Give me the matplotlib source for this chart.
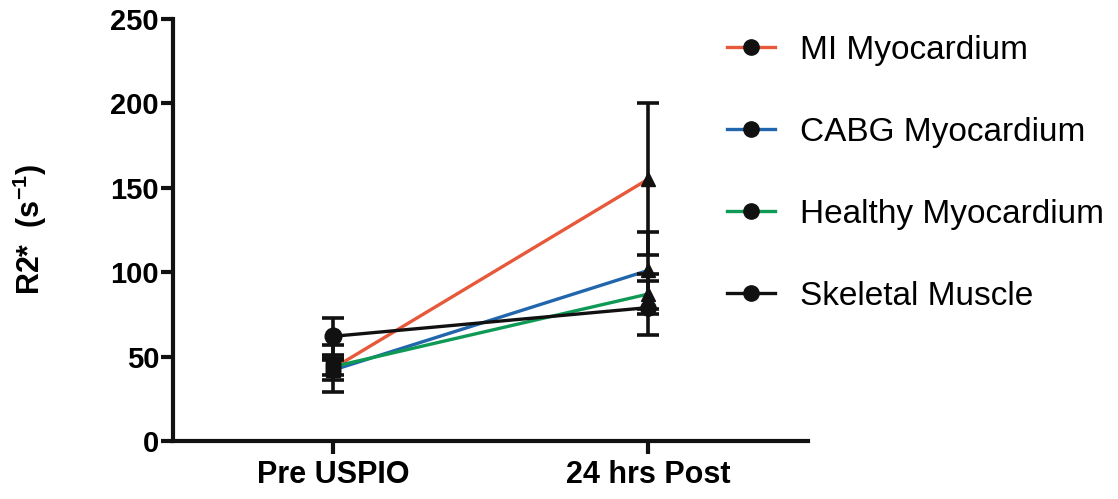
import numpy as np
import matplotlib.pyplot as plt
from matplotlib.lines import Line2D

plt.rcParams['font.family'] = ['Liberation Sans', 'DejaVu Sans']
plt.rcParams['mathtext.fontset'] = 'custom'
plt.rcParams['mathtext.rm'] = 'Liberation Sans:bold'
plt.rcParams['mathtext.bf'] = 'Liberation Sans:bold'

# dados
grupos = ["Pre USPIO", "24 hrs Post"]
series = ["MI Myocardium", "CABG Myocardium", "Healthy Myocardium", "Skeletal Muscle"]
mi_media = [43, 155]
mi_erro = [14, 45]
cabg_media = [42, 101]
cabg_erro = [6, 23]
saudavel_media = [44, 87]
saudavel_erro = [5, 12]
esqueletico_media = [62, 79]
esqueletico_erro = [11, 16]

cores = ["#E8583A", "#2166AC", "#0E9A55", "#111111"]
marcadores_pre = ["s", "s", "s", "o"]
marcadores_pos = ["^", "^", "^", "o"]

medias = [mi_media, cabg_media, saudavel_media, esqueletico_media]
erros = [mi_erro, cabg_erro, saudavel_erro, esqueletico_erro]

fig = plt.figure(figsize=(11.18, 4.99), dpi=100)
ax = fig.add_axes([0.1547, 0.1162, 0.568, 0.846])

x = np.arange(len(grupos))
for i in range(len(series)):
    ax.errorbar(x, medias[i], yerr=erros[i], fmt='none', ecolor='#111111',
                elinewidth=2.6, capsize=8, capthick=2.6, zorder=3)
for i in range(len(series)):
    ax.plot(x, medias[i], color=cores[i], lw=2.4, zorder=2)
for i in range(len(series)):
    ax.plot(x[0], medias[i][0], marker=marcadores_pre[i], color='#111111',
            ms=12 if marcadores_pre[i] == 'o' else 10, ls='none', zorder=4)
    ax.plot(x[1], medias[i][1], marker=marcadores_pos[i], color='#111111',
            ms=11 if marcadores_pos[i] == 'o' else 10, ls='none', zorder=4)

ax.set_xlim(-0.508, 1.508)
ax.set_ylim(0, 250)
ax.set_yticks([0, 50, 100, 150, 200, 250])
ax.set_xticks(x)
ax.set_xticklabels(grupos)
for s in ['top', 'right']:
    ax.spines[s].set_visible(False)
for s in ['left', 'bottom']:
    ax.spines[s].set_linewidth(3)
    ax.spines[s].set_color('#111111')
ax.tick_params(axis='both', width=3, length=9, color='#111111')
ax.tick_params(axis='y', labelsize=21, pad=1)
ax.tick_params(axis='x', labelsize=22, pad=5)
for t in ax.get_xticklabels() + ax.get_yticklabels():
    t.set_fontweight('bold')

ax.set_ylabel(r"R2*  (s$^{-1}$)", fontsize=22, fontweight='bold')
ax.yaxis.set_label_coords(-0.195, 0.5)

handles = [Line2D([0], [0], color=cores[i], lw=2.4, marker='o', mfc='#111111',
                  mec='#111111', ms=11) for i in range(len(series))]
fig.legend(handles, series, loc='upper left', bbox_to_anchor=(0.650, 0.930),
           frameon=False, fontsize=24, handlelength=1.45, handletextpad=0.75,
           labelspacing=1.53, borderpad=0, borderaxespad=0)

plt.savefig('out.png', dpi=100)
